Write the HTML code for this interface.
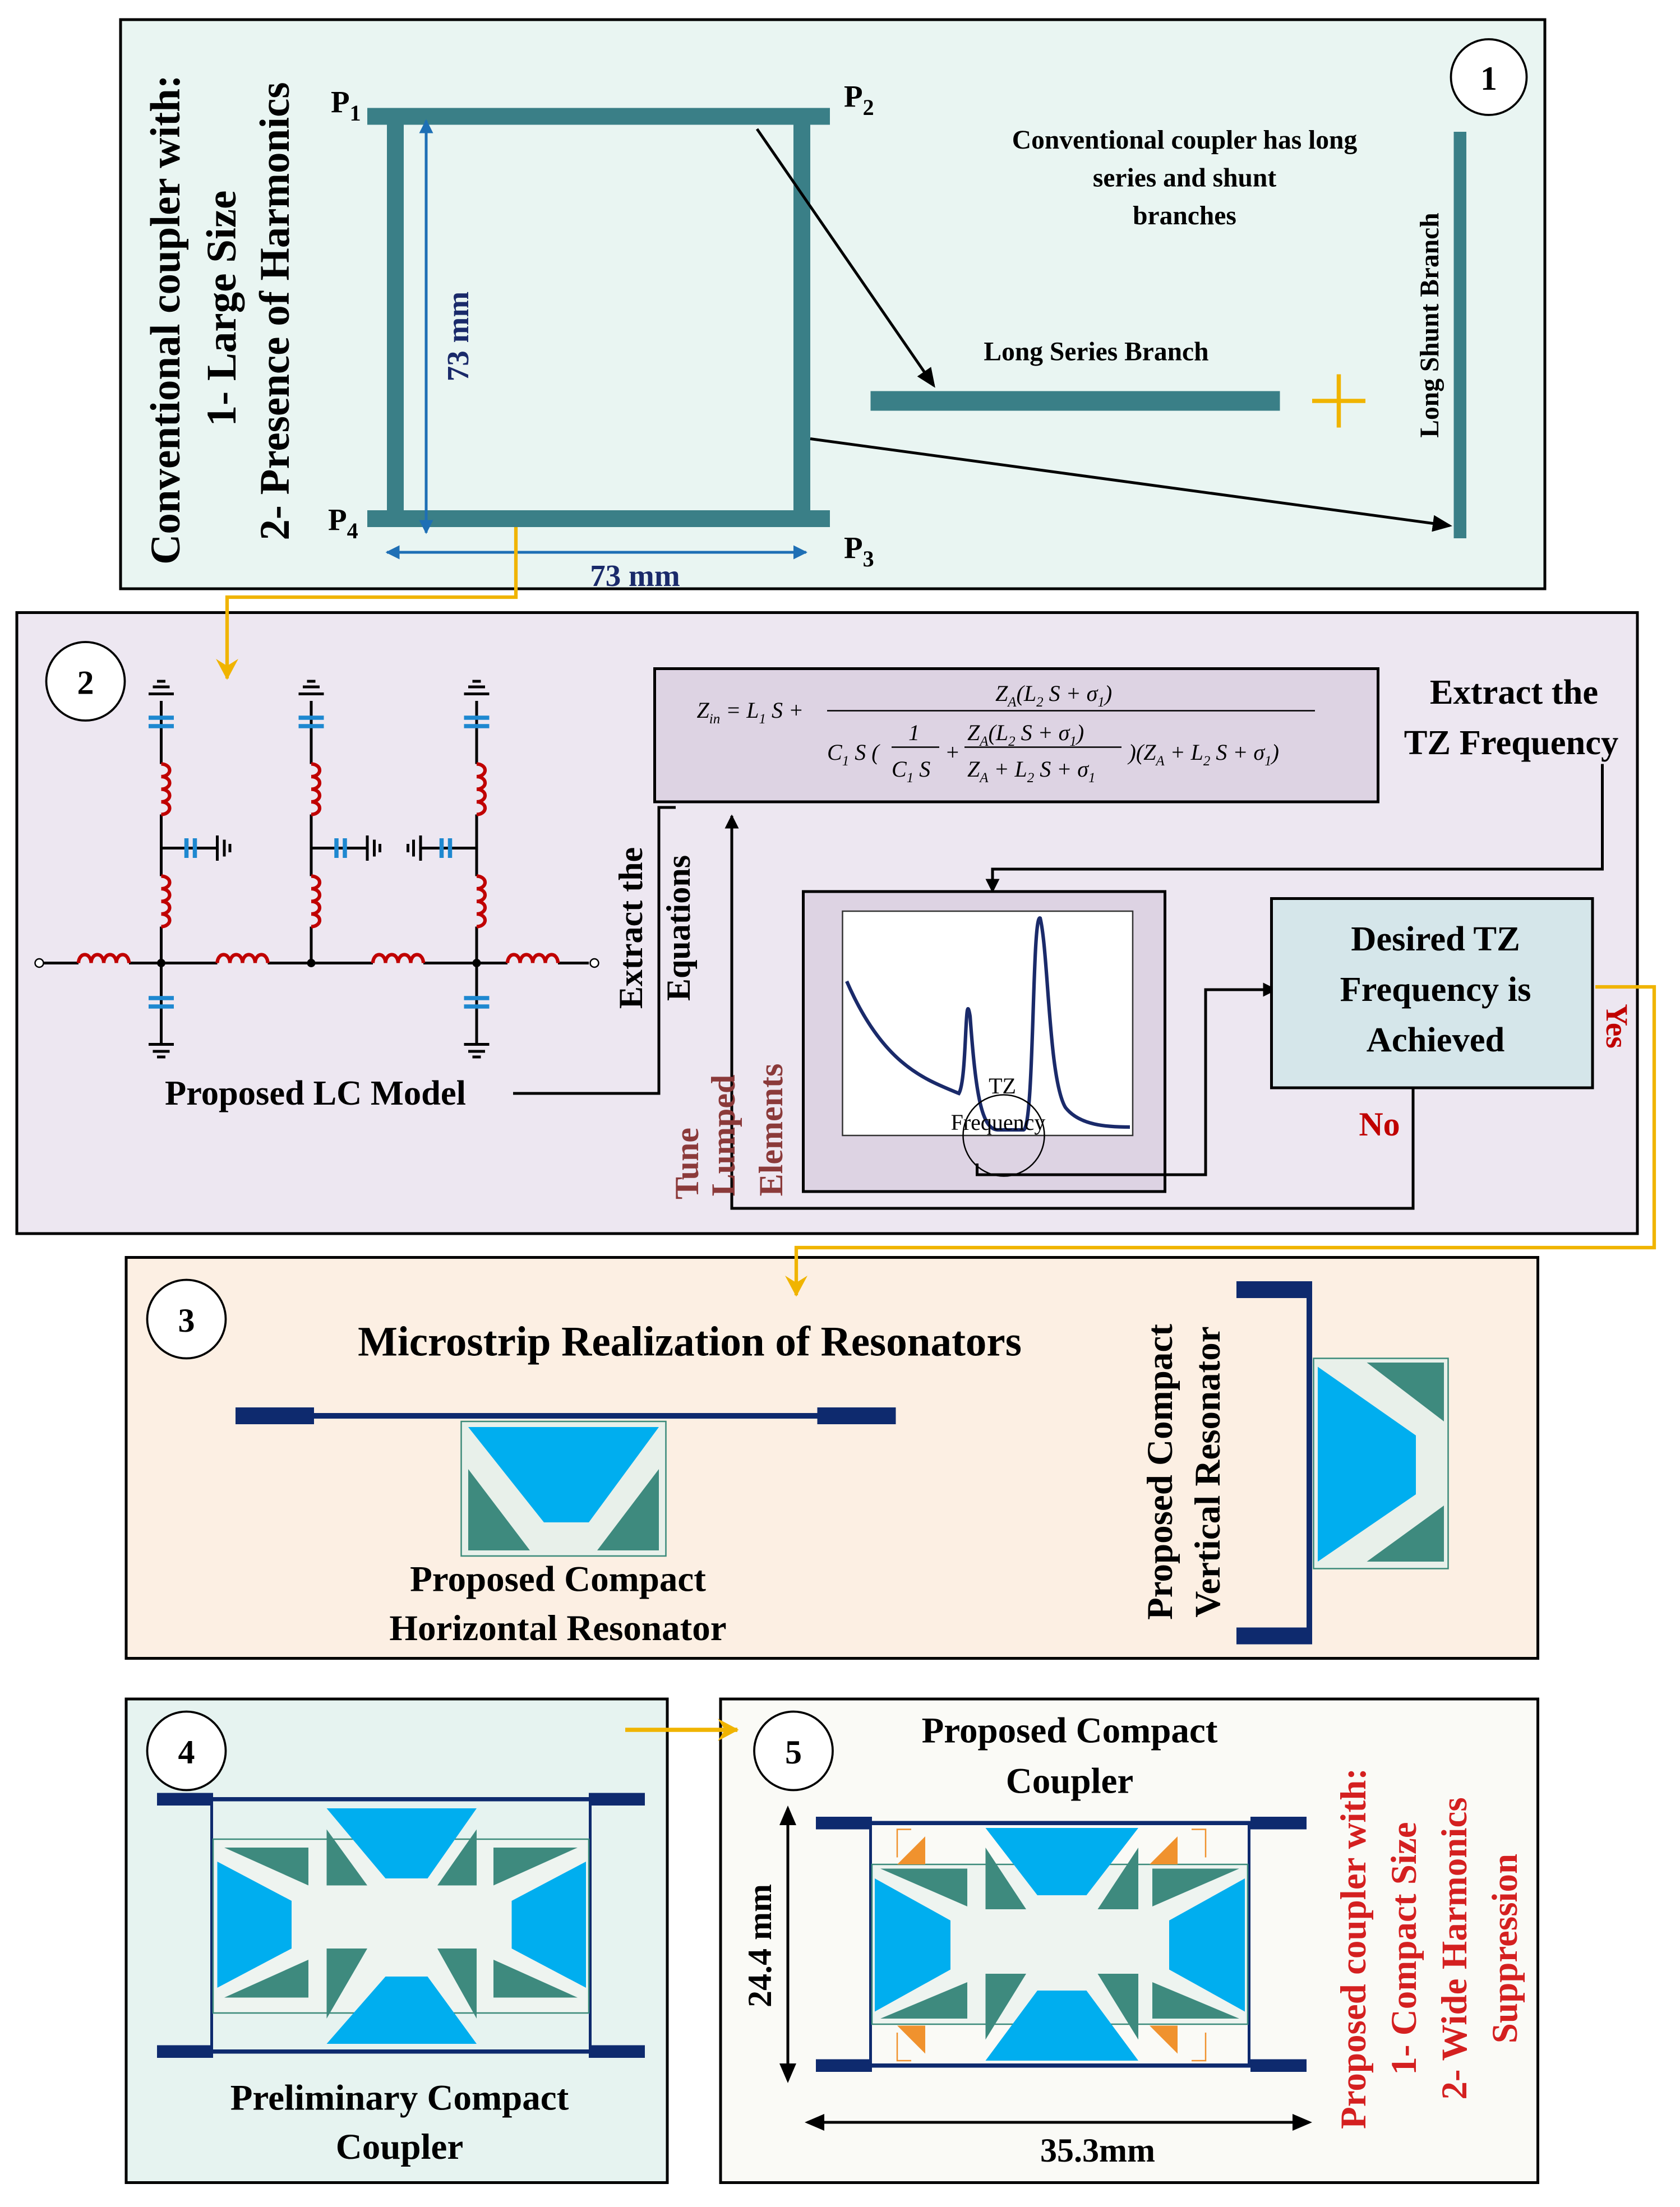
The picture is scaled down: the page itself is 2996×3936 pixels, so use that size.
<!DOCTYPE html>
<html><head><meta charset="utf-8"><style>html,body{margin:0;padding:0;background:#fff}svg{display:block}</style></head>
<body>
<svg width="2996" height="3936" viewBox="0 0 1198.4 1574.4" xmlns="http://www.w3.org/2000/svg" font-family="Liberation Serif, serif" font-weight="bold">
<defs>
<marker id="ab" markerWidth="10" markerHeight="10" refX="9" refY="5" orient="auto" markerUnits="userSpaceOnUse"><path d="M0,0 L10,5 L0,10 z" fill="#000"/></marker>
<marker id="ay" markerWidth="16" markerHeight="16" refX="14" refY="8" orient="auto" markerUnits="userSpaceOnUse"><path d="M0,0 L15,8 L0,16 L5,8z" fill="#f0b400"/></marker>
<marker id="abl" markerWidth="10" markerHeight="10" refX="9" refY="5" orient="auto-start-reverse" markerUnits="userSpaceOnUse"><path d="M0,0 L10,5 L0,10 z" fill="#1e6fb5"/></marker>
<marker id="ak" markerWidth="14" markerHeight="12" refX="12" refY="6" orient="auto-start-reverse" markerUnits="userSpaceOnUse"><path d="M0,0 L14,6 L0,12 z" fill="#000"/></marker>
</defs>
<rect width="1198.4" height="1574.4" fill="#fff"/>

<!-- Box 1 -->
<rect x="86" y="14" width="1016" height="406" fill="#e9f5f2" stroke="#000" stroke-width="2"/>
<circle cx="1062" cy="55" r="27" fill="#fff" stroke="#000" stroke-width="1.5"/>
<text x="1062" y="64" font-size="24" text-anchor="middle">1</text>
<g fill="#3a7f87">
<rect x="262" y="77" width="330" height="12"/>
<rect x="262" y="364" width="330" height="12"/>
<rect x="276" y="77" width="12" height="299"/>
<rect x="566" y="77" width="12" height="299"/>
<rect x="621" y="279" width="292" height="14"/>
<rect x="1037" y="94" width="9" height="290"/>
</g>
<text font-size="22" fill="#000"><tspan x="236" y="80">P</tspan><tspan font-size="16" dy="6">1</tspan></text>
<text font-size="22"><tspan x="602" y="76">P</tspan><tspan font-size="16" dy="6">2</tspan></text>
<text font-size="22"><tspan x="234" y="378">P</tspan><tspan font-size="16" dy="6">4</tspan></text>
<text font-size="22"><tspan x="602" y="398">P</tspan><tspan font-size="16" dy="6">3</tspan></text>
<line x1="304" y1="86" x2="304" y2="380" stroke="#1e6fb5" stroke-width="2" marker-start="url(#abl)" marker-end="url(#abl)"/>
<line x1="276" y1="394" x2="575" y2="394" stroke="#1e6fb5" stroke-width="2" marker-start="url(#abl)" marker-end="url(#abl)"/>
<text x="453" y="418" font-size="22" fill="#1a2a6a" text-anchor="middle">73 mm</text>
<text transform="translate(334,240) rotate(-90)" font-size="22" fill="#1a2a6a" text-anchor="middle">73 mm</text>
<text transform="translate(128,228) rotate(-90)" font-size="30" text-anchor="middle">Conventional coupler with:</text>
<text transform="translate(168,220) rotate(-90)" font-size="30" text-anchor="middle">1- Large Size</text>
<text transform="translate(206,222) rotate(-90)" font-size="30" text-anchor="middle">2- Presence of Harmonics</text>
<text font-size="19" text-anchor="middle"><tspan x="845" y="106">Conventional coupler has long</tspan><tspan x="845" y="133">series and shunt</tspan><tspan x="845" y="160">branches</tspan></text>
<text x="782" y="257" font-size="19" text-anchor="middle">Long Series Branch</text>
<text transform="translate(1026,232) rotate(-90)" font-size="19" text-anchor="middle">Long Shunt Branch</text>
<line x1="540" y1="92" x2="666" y2="275" stroke="#000" stroke-width="2" marker-end="url(#ak)"/>
<line x1="578" y1="313" x2="1034" y2="375" stroke="#000" stroke-width="2" marker-end="url(#ak)"/>
<path d="M936,286 h38 M955,267 v38" stroke="#f0b400" stroke-width="3"/>

<!-- Box 2 -->
<rect x="12" y="437" width="1156" height="443" fill="#ede7f1" stroke="#000" stroke-width="2"/>
<circle cx="61" cy="486" r="28" fill="#fff" stroke="#000" stroke-width="1.5"/>
<text x="61" y="495" font-size="24" text-anchor="middle">2</text>
<g stroke="#000" stroke-width="2" fill="none">
<path d="M28,687 H56 M92,687 H155 M191,687 H266 M302,687 H362 M398,687 H420"/>
<path d="M115,500 V545 M115,581 V625 M115,661 V745"/>
<path d="M222,500 V545 M222,581 V625 M222,661 V687"/>
<path d="M340,500 V545 M340,581 V625 M340,661 V745"/>
<line x1="115" y1="605" x2="155" y2="605"/><line x1="222" y1="605" x2="262" y2="605"/><line x1="300" y1="605" x2="340" y2="605"/>
</g>
<circle cx="28" cy="687" r="3" fill="#fff" stroke="#000"/><circle cx="424" cy="687" r="3" fill="#fff" stroke="#000"/>
<g fill="#000"><circle cx="115" cy="687" r="3"/><circle cx="222" cy="687" r="3"/><circle cx="340" cy="687" r="3"/></g>
<g stroke="#c00000" stroke-width="2.5" fill="none">
<path d="M56,687 a4.5,6 0 0 1 9,0 a4.5,6 0 0 1 9,0 a4.5,6 0 0 1 9,0 a4.5,6 0 0 1 9,0"/>
<path d="M155,687 a4.5,6 0 0 1 9,0 a4.5,6 0 0 1 9,0 a4.5,6 0 0 1 9,0 a4.5,6 0 0 1 9,0"/>
<path d="M266,687 a4.5,6 0 0 1 9,0 a4.5,6 0 0 1 9,0 a4.5,6 0 0 1 9,0 a4.5,6 0 0 1 9,0"/>
<path d="M362,687 a4.5,6 0 0 1 9,0 a4.5,6 0 0 1 9,0 a4.5,6 0 0 1 9,0 a4.5,6 0 0 1 9,0"/>
<path d="M115,545 a6,4.5 0 0 1 0,9 a6,4.5 0 0 1 0,9 a6,4.5 0 0 1 0,9 a6,4.5 0 0 1 0,9"/>
<path d="M115,625 a6,4.5 0 0 1 0,9 a6,4.5 0 0 1 0,9 a6,4.5 0 0 1 0,9 a6,4.5 0 0 1 0,9"/>
<path d="M222,545 a6,4.5 0 0 1 0,9 a6,4.5 0 0 1 0,9 a6,4.5 0 0 1 0,9 a6,4.5 0 0 1 0,9"/>
<path d="M222,625 a6,4.5 0 0 1 0,9 a6,4.5 0 0 1 0,9 a6,4.5 0 0 1 0,9 a6,4.5 0 0 1 0,9"/>
<path d="M340,545 a6,4.5 0 0 1 0,9 a6,4.5 0 0 1 0,9 a6,4.5 0 0 1 0,9 a6,4.5 0 0 1 0,9"/>
<path d="M340,625 a6,4.5 0 0 1 0,9 a6,4.5 0 0 1 0,9 a6,4.5 0 0 1 0,9 a6,4.5 0 0 1 0,9"/>
</g>
<g stroke="#1e88d0" stroke-width="3">
<path d="M106,512h18M106,518h18M213,512h18M213,518h18M331,512h18M331,518h18"/>
<path d="M106,712h18M106,718h18M331,712h18M331,718h18"/>
<path d="M133,598v14M139,598v14M240,598v14M246,598v14M315,598v14M321,598v14"/>
</g>
<g stroke="#000" stroke-width="2">
<path d="M106,495h18M109,490h12M112,486h6M213,495h18M216,490h12M219,486h6M331,495h18M334,490h12M337,486h6"/>
<path d="M106,745h18M109,750h12M112,754h6M331,745h18M334,750h12M337,754h6"/>
<path d="M155,596v18M160,599v12M164,602v6M262,596v18M267,599v12M271,602v6M300,596v18M295,599v12M291,602v6"/>
</g>
<text x="225" y="788" font-size="25" text-anchor="middle">Proposed LC Model</text>
<path d="M366,780 H470 V576 H482" fill="none" stroke="#000" stroke-width="2"/>
<text transform="translate(458,662) rotate(-90)" font-size="24" text-anchor="middle">Extract the</text>
<text transform="translate(492,662) rotate(-90)" font-size="24" text-anchor="middle">Equations</text>
<rect x="467" y="477" width="516" height="95" fill="#ddd3e3" stroke="#000" stroke-width="2"/>
<g font-family="Liberation Serif, serif" font-weight="normal" font-style="italic" font-size="16">
<text x="497" y="512">Z<tspan font-size="10" dy="4">in</tspan><tspan dy="-4"> = L</tspan><tspan font-size="10" dy="4">1</tspan><tspan dy="-4"> S +</tspan></text>
<text x="710" y="500">Z<tspan font-size="10" dy="4">A</tspan><tspan dy="-4">(L</tspan><tspan font-size="10" dy="4">2</tspan><tspan dy="-4"> S + σ</tspan><tspan font-size="10" dy="4">1</tspan><tspan dy="-4">)</tspan></text>
<line x1="590" y1="507" x2="938" y2="507" stroke="#000" stroke-width="1"/>
<text x="590" y="542">C<tspan font-size="10" dy="4">1</tspan><tspan dy="-4"> S (</tspan></text>
<text x="648" y="528">1</text><line x1="636" y1="533" x2="670" y2="533" stroke="#000"/><text x="636" y="554">C<tspan font-size="10" dy="4">1</tspan><tspan dy="-4"> S</tspan></text>
<text x="674" y="542">+</text>
<text x="690" y="528">Z<tspan font-size="10" dy="4">A</tspan><tspan dy="-4">(L</tspan><tspan font-size="10" dy="4">2</tspan><tspan dy="-4"> S + σ</tspan><tspan font-size="10" dy="4">1</tspan><tspan dy="-4">)</tspan></text>
<line x1="688" y1="533" x2="800" y2="533" stroke="#000"/>
<text x="690" y="554">Z<tspan font-size="10" dy="4">A</tspan><tspan dy="-4"> + L</tspan><tspan font-size="10" dy="4">2</tspan><tspan dy="-4"> S + σ</tspan><tspan font-size="10" dy="4">1</tspan></text>
<text x="805" y="542">)(Z<tspan font-size="10" dy="4">A</tspan><tspan dy="-4"> + L</tspan><tspan font-size="10" dy="4">2</tspan><tspan dy="-4"> S + σ</tspan><tspan font-size="10" dy="4">1</tspan><tspan dy="-4">)</tspan></text>
</g>
<text x="1080" y="502" font-size="25" text-anchor="middle">Extract the</text>
<text x="1078" y="538" font-size="25" text-anchor="middle">TZ Frequency</text>
<path d="M1143,545 V620 H708 V636" fill="none" stroke="#000" stroke-width="2" marker-end="url(#ab)"/>
<rect x="573" y="636" width="258" height="214" fill="#ddd3e3" stroke="#000" stroke-width="2"/>
<rect x="601" y="650" width="207" height="160" fill="#fff" stroke="#333" stroke-width="1"/>
<path d="M604,700 C630,760 660,770 684,780 C690,770 688,700 692,725 C696,780 700,806 712,806 L730,806 C738,806 736,650 742,655 C748,680 748,770 760,790 C770,803 790,804 806,804" fill="none" stroke="#1a2a6a" stroke-width="2.5"/>
<text x="715" y="780" font-size="16" font-weight="normal" text-anchor="middle">TZ</text>
<text x="712" y="806" font-size="16" font-weight="normal" text-anchor="middle">Frequency</text>
<circle cx="716" cy="810" r="29" fill="none" stroke="#000" stroke-width="1"/>
<path d="M697,830 V838 H860 V706 H910" fill="none" stroke="#000" stroke-width="2" marker-end="url(#ab)"/>
<rect x="907" y="641" width="229" height="135" fill="#d5e6ea" stroke="#000" stroke-width="2"/>
<text font-size="25" text-anchor="middle"><tspan x="1024" y="678">Desired TZ</tspan><tspan x="1024" y="714">Frequency is</tspan><tspan x="1024" y="750">Achieved</tspan></text>
<text x="984" y="810" font-size="24" fill="#c00000" text-anchor="middle">No</text>
<path d="M1008,776 V862 H522 V582" fill="none" stroke="#000" stroke-width="2" marker-end="url(#ab)"/>
<text transform="translate(498,830) rotate(-90)" font-size="24" fill="#8b3a3a" text-anchor="middle">Tune</text>
<text transform="translate(524,810) rotate(-90)" font-size="24" fill="#8b3a3a" text-anchor="middle">Lumped</text>
<text transform="translate(558,806) rotate(-90)" font-size="24" fill="#8b3a3a" text-anchor="middle">Elements</text>
<text transform="translate(1146,732) rotate(90)" font-size="22" fill="#c00000" text-anchor="middle">Yes</text>

<!-- Box 3 -->
<rect x="90" y="897" width="1007" height="286" fill="#fcefe3" stroke="#000" stroke-width="2"/>
<circle cx="133" cy="941" r="28" fill="#fff" stroke="#000" stroke-width="1.5"/>
<text x="133" y="950" font-size="24" text-anchor="middle">3</text>
<text x="492" y="967" font-size="30" text-anchor="middle">Microstrip Realization of Resonators</text>
<rect x="168" y="1004" width="56" height="12" fill="#0e2a6e"/><rect x="583" y="1004" width="56" height="12" fill="#0e2a6e"/>
<rect x="224" y="1008" width="359" height="4" fill="#0e2a6e"/>
<rect x="329" y="1014" width="146" height="96" fill="#e8f0ea" stroke="#3a8a7a" stroke-width="1"/>
<path d="M334,1018 L470,1018 L420,1086 L388,1086 Z" fill="#00aeef"/>
<path d="M334,1048 L334,1106 L378,1106 Z" fill="#3e8a7e"/><path d="M470,1048 L470,1106 L426,1106 Z" fill="#3e8a7e"/>
<text x="398" y="1135" font-size="26" text-anchor="middle">Proposed Compact</text>
<text x="398" y="1170" font-size="26" text-anchor="middle">Horizontal Resonator</text>
<rect x="882" y="914" width="54" height="12" fill="#0e2a6e"/><rect x="882" y="1161" width="54" height="12" fill="#0e2a6e"/>
<rect x="932" y="926" width="4" height="235" fill="#0e2a6e"/>
<rect x="937" y="969" width="96" height="150" fill="#e8f0ea" stroke="#3a8a7a" stroke-width="1"/>
<path d="M940,975 L940,1114 L1010,1066 L1010,1024 Z" fill="#00aeef"/>
<path d="M975,972 L1030,972 L1030,1014 Z" fill="#3e8a7e"/><path d="M975,1114 L1030,1114 L1030,1074 Z" fill="#3e8a7e"/>
<text transform="translate(836,1050) rotate(-90)" font-size="26" text-anchor="middle">Proposed Compact</text>
<text transform="translate(870,1050) rotate(-90)" font-size="26" text-anchor="middle">Vertical Resonator</text>

<!-- Box 4 -->
<rect x="90" y="1212" width="386" height="345" fill="#e6f3f0" stroke="#000" stroke-width="2"/>
<circle cx="133" cy="1249" r="28" fill="#fff" stroke="#000" stroke-width="1.5"/>
<text x="133" y="1258" font-size="24" text-anchor="middle">4</text>
<g>
<rect x="112" y="1279" width="40" height="9" fill="#0e2a6e"/><rect x="420" y="1279" width="40" height="9" fill="#0e2a6e"/>
<rect x="112" y="1459" width="40" height="9" fill="#0e2a6e"/><rect x="420" y="1459" width="40" height="9" fill="#0e2a6e"/>
<rect x="152" y="1282" width="268" height="3" fill="#0e2a6e"/><rect x="152" y="1462" width="268" height="3" fill="#0e2a6e"/>
<rect x="150" y="1285" width="2" height="177" fill="#0e2a6e"/><rect x="420" y="1285" width="2" height="177" fill="#0e2a6e"/>
<rect x="152" y="1312" width="268" height="124" fill="#eef4f0" stroke="#3a8a7a"/>
<path d="M233,1290 L340,1290 L305,1340 L275,1340Z" fill="#00aeef"/>
<path d="M233,1458 L340,1458 L305,1410 L275,1410Z" fill="#00aeef"/>
<path d="M155,1328 L155,1418 L208,1390 L208,1356Z" fill="#00aeef"/>
<path d="M418,1328 L418,1418 L365,1390 L365,1356Z" fill="#00aeef"/>
<g fill="#3e8a7e">
<path d="M233,1305 L233,1345 L262,1345Z"/><path d="M340,1305 L340,1345 L312,1345Z"/>
<path d="M233,1440 L233,1390 L262,1390Z"/><path d="M340,1440 L340,1390 L312,1390Z"/>
<path d="M160,1318 L220,1318 L220,1345Z"/><path d="M160,1425 L220,1425 L220,1398Z"/>
<path d="M412,1318 L352,1318 L352,1345Z"/><path d="M412,1425 L352,1425 L352,1398Z"/>
</g>
</g>
<text x="285" y="1505" font-size="26" text-anchor="middle">Preliminary Compact</text>
<text x="285" y="1540" font-size="26" text-anchor="middle">Coupler</text>

<!-- Box 5 -->
<rect x="514" y="1212" width="583" height="345" fill="#fafaf6" stroke="#000" stroke-width="2"/>
<circle cx="566" cy="1249" r="28" fill="#fff" stroke="#000" stroke-width="1.5"/>
<text x="566" y="1258" font-size="24" text-anchor="middle">5</text>
<text x="763" y="1243" font-size="26" text-anchor="middle">Proposed Compact</text>
<text x="763" y="1279" font-size="26" text-anchor="middle">Coupler</text>
<g>
<rect x="582" y="1296" width="40" height="9" fill="#0e2a6e"/><rect x="892" y="1296" width="40" height="9" fill="#0e2a6e"/>
<rect x="582" y="1469" width="40" height="9" fill="#0e2a6e"/><rect x="892" y="1469" width="40" height="9" fill="#0e2a6e"/>
<rect x="622" y="1299" width="270" height="3" fill="#0e2a6e"/><rect x="622" y="1472" width="270" height="3" fill="#0e2a6e"/>
<rect x="620" y="1302" width="2" height="170" fill="#0e2a6e"/><rect x="890" y="1302" width="2" height="170" fill="#0e2a6e"/>
<rect x="622" y="1330" width="268" height="114" fill="#eef4f0" stroke="#3a8a7a"/>
<path d="M703,1304 L812,1304 L775,1352 L740,1352Z" fill="#00aeef"/>
<path d="M703,1470 L812,1470 L775,1420 L740,1420Z" fill="#00aeef"/>
<path d="M624,1340 L624,1435 L678,1405 L678,1370Z" fill="#00aeef"/>
<path d="M888,1340 L888,1435 L834,1405 L834,1370Z" fill="#00aeef"/>
<g fill="#3e8a7e">
<path d="M703,1318 L703,1362 L732,1362Z"/><path d="M812,1318 L812,1362 L783,1362Z"/>
<path d="M703,1455 L703,1408 L732,1408Z"/><path d="M812,1455 L812,1408 L783,1408Z"/>
<path d="M628,1333 L690,1333 L690,1360Z"/><path d="M628,1440 L690,1440 L690,1414Z"/>
<path d="M884,1333 L822,1333 L822,1360Z"/><path d="M884,1440 L822,1440 L822,1414Z"/>
</g>
<g fill="#f0922e"><path d="M660,1310 L660,1330 L640,1330Z"/><path d="M820,1330 L840,1310 L840,1330Z"/><path d="M660,1445 L660,1465 L640,1445Z"/><path d="M820,1445 L840,1445 L840,1465Z"/></g>
<g fill="none" stroke="#f0922e" stroke-width="1"><path d="M650,1305 h-10 v20"/><path d="M850,1305 h10 v20"/><path d="M650,1470 h-10 v-20"/><path d="M850,1470 h10 v-20"/></g>
</g>
<line x1="562" y1="1290" x2="562" y2="1484" stroke="#000" stroke-width="2" marker-start="url(#ak)" marker-end="url(#ak)"/>
<text transform="translate(550,1388) rotate(-90)" font-size="24" text-anchor="middle">24.4 mm</text>
<line x1="576" y1="1514" x2="934" y2="1514" stroke="#000" stroke-width="2" marker-start="url(#ak)" marker-end="url(#ak)"/>
<text x="783" y="1542" font-size="24" text-anchor="middle">35.3mm</text>
<text transform="translate(974,1390) rotate(-90)" font-size="26" fill="#d42020" text-anchor="middle">Proposed coupler with:</text>
<text transform="translate(1010,1390) rotate(-90)" font-size="26" fill="#d42020" text-anchor="middle">1- Compact Size</text>
<text transform="translate(1046,1390) rotate(-90)" font-size="26" fill="#d42020" text-anchor="middle">2- Wide Harmonics</text>
<text transform="translate(1082,1390) rotate(-90)" font-size="26" fill="#d42020" text-anchor="middle">Suppression</text>

<!-- yellow connectors on top -->
<path d="M368,376 V426 H162 V484" fill="none" stroke="#f0b400" stroke-width="2.5" marker-end="url(#ay)"/>
<path d="M1138,704 H1180 V890 H568 V924" fill="none" stroke="#f0b400" stroke-width="2.5" marker-end="url(#ay)"/>
<line x1="446" y1="1234" x2="526" y2="1234" stroke="#f0b400" stroke-width="3" marker-end="url(#ay)"/>
</svg>
</body></html>
